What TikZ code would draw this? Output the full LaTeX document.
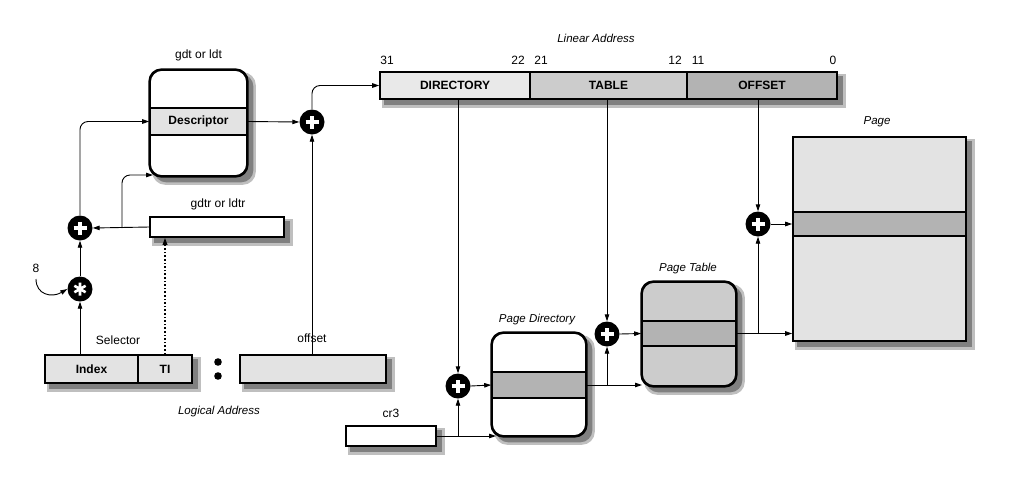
\documentclass[tikz,border=0pt]{standalone}
\usepackage{fontspec}
\setmainfont{Liberation Sans}
\usetikzlibrary{arrows.meta,calc,backgrounds}
\definecolor{lg}{HTML}{E3E3E3}
\definecolor{mg}{HTML}{CCCCCC}
\definecolor{dg}{HTML}{B3B3B3}
\begin{document}
\begin{tikzpicture}[x=1pt,y=-1pt,
  font=\fontsize{12}{14}\selectfont,
  arr/.style={-{Triangle[length=7pt,width=4.5pt]}, line width=0.9pt},
  box/.style={draw, line width=1.6pt, inner sep=0pt},
  rbox/.style={box, rounded corners=12pt},
  shA/.style={fill=black!25},
  shB/.style={fill=black!50},
  lbl/.style={inner sep=0pt},
  ilbl/.style={inner sep=0pt, font=\fontsize{11.5}{14}\selectfont\itshape},
  blbl/.style={font=\fontsize{12}{14}\selectfont\bfseries},
  op/.style={circle, fill=black, minimum size=25pt, inner sep=0pt},
  plus/.style={op, path picture={\draw[white,line width=3.4pt]
     ([xshift=-6.5pt]path picture bounding box.center) -- ([xshift=6.5pt]path picture bounding box.center)
     ([yshift=-6.5pt]path picture bounding box.center) -- ([yshift=6.5pt]path picture bounding box.center);}},
  star/.style={op, path picture={\draw[white,line width=2.6pt]
     ($(path picture bounding box.center)+(90:6.5pt)$) -- ($(path picture bounding box.center)+(270:6.5pt)$)
     ($(path picture bounding box.center)+(30:6.5pt)$) -- ($(path picture bounding box.center)+(210:6.5pt)$)
     ($(path picture bounding box.center)+(150:6.5pt)$) -- ($(path picture bounding box.center)+(330:6.5pt)$);}}
]
\useasboundingbox (0,0) rectangle (1011,488);

% ---- segment table
\node[rbox, fill=white, minimum width=97pt, minimum height=106pt] (gdt) at (198.5,123) {};
\node[box, fill=lg, minimum width=97pt, minimum height=27pt, blbl] (desc) at (198.5,121.5) {Descriptor};
\draw[line width=1.6pt, rounded corners=12pt] (gdt.north west) rectangle (gdt.south east);
\node[lbl] (gdtl) at (198.5,55) {gdt or ldt};

% ---- gdtr
\node[box, fill=white, minimum width=134pt, minimum height=20pt] (gdtr) at (217,227) {};
\node[lbl] (gdtrl) at (218,204) {gdtr or ldtr};

% ---- operators
\node[plus] (plusD) at (312,122) {};
\node[plus] (plusG) at (80,228) {};
\node[star] (star) at (80,289) {};
\node[lbl] (eight) at (36,268) {8};

% ---- logical address
\node[box, fill=lg, minimum width=93pt, minimum height=28pt, blbl] (index) at (91.5,369) {Index};
\node[box, fill=lg, minimum width=54pt, minimum height=28pt, blbl] (ti) at (165,369) {TI};
\node[box, fill=lg, minimum width=146pt, minimum height=28pt] (off) at (313,369) {};
\node[lbl] (sell) at (118,340) {Selector};
\node[lbl] (offl) at (312,338) {offset};
\fill (218,362) circle (3.8pt) (218,376) circle (3.8pt);
\node[ilbl] (logl) at (219,412) {Logical Address};

% ---- linear address
\node[box, fill=lg!80!white, minimum width=150pt, minimum height=27pt, blbl] (dir) at (455,85.5) {DIRECTORY};
\node[box, fill=mg, minimum width=157pt, minimum height=27pt, blbl] (tab) at (608.5,85.5) {TABLE};
\node[box, fill=dg, minimum width=150pt, minimum height=27pt, blbl] (loff) at (762,85.5) {OFFSET};
\node[ilbl] (linl) at (596,38) {Linear Address};
\node[lbl] (b31) at (387,60) {31};
\node[lbl] (b22) at (518,60) {22};
\node[lbl] (b21) at (541,60) {21};
\node[lbl] (b12) at (675,60) {12};
\node[lbl] (b11) at (698,60) {11};
\node[lbl] (b0) at (833,60) {0};

% ---- cr3
\node[box, fill=white, minimum width=90pt, minimum height=20pt] (cr3) at (391,436) {};
\node[lbl] (cr3l) at (391,413) {cr3};

% ---- page directory
\node[plus] (plusPD) at (458,386) {};
\node[rbox, fill=white, minimum width=94pt, minimum height=103pt] (pd) at (539,384.5) {};
\node[box, fill=dg, minimum width=94pt, minimum height=26pt] (pdb) at (539,385) {};
\draw[line width=1.6pt, rounded corners=12pt] (pd.north west) rectangle (pd.south east);
\node[ilbl] (pdl) at (537,320) {Page Directory};

% ---- page table
\node[plus] (plusPT) at (607,334) {};
\node[rbox, fill=mg, minimum width=94pt, minimum height=104pt] (pt) at (689,334) {};
\node[box, fill=dg, minimum width=94pt, minimum height=25pt] (ptb) at (689,333.5) {};
\draw[line width=1.6pt, rounded corners=12pt] (pt.north west) rectangle (pt.south east);
\node[ilbl] (ptl) at (688,269) {Page Table};

% ---- page
\node[plus] (plusP) at (758,224) {};
\node[box, fill=lg, minimum width=173pt, minimum height=204pt] (page) at (879.5,239) {};
\node[box, fill=dg, minimum width=173pt, minimum height=24pt] (pgb) at (879.5,224) {};
\node[ilbl] (pgl) at (877,122) {Page};

% ---- drop shadows
\begin{pgfonlayer}{background}
\fill[shA] ($(gdtr.north west)+(3,3)$) rectangle ($(gdtr.south east)+(8,8)$);
\fill[shB] ($(gdtr.north west)+(5,5)$) rectangle ($(gdtr.south east)+(5.5,5.5)$);
\fill[shA] ($(index.north west)+(3,3)$) rectangle ($(ti.south east)+(8,8)$);
\fill[shB] ($(index.north west)+(5,5)$) rectangle ($(ti.south east)+(5.5,5.5)$);
\fill[shA] ($(off.north west)+(3,3)$) rectangle ($(off.south east)+(8,8)$);
\fill[shB] ($(off.north west)+(5,5)$) rectangle ($(off.south east)+(5.5,5.5)$);
\fill[shA] ($(dir.north west)+(3,3)$) rectangle ($(loff.south east)+(8,8)$);
\fill[shB] ($(dir.north west)+(5,5)$) rectangle ($(loff.south east)+(5.5,5.5)$);
\fill[shA] ($(cr3.north west)+(3,3)$) rectangle ($(cr3.south east)+(8,8)$);
\fill[shB] ($(cr3.north west)+(5,5)$) rectangle ($(cr3.south east)+(5.5,5.5)$);
\fill[shA] ($(page.north west)+(3,3)$) rectangle ($(page.south east)+(8,8)$);
\fill[shB] ($(page.north west)+(5,5)$) rectangle ($(page.south east)+(5.5,5.5)$);
\fill[shA, rounded corners=13pt] ($(gdt.north west)+(3,3)$) rectangle ($(gdt.south east)+(8,8)$);
\fill[shB, rounded corners=12pt] ($(gdt.north west)+(5,5)$) rectangle ($(gdt.south east)+(5.5,5.5)$);
\fill[shA, rounded corners=13pt] ($(pd.north west)+(3,3)$) rectangle ($(pd.south east)+(8,8)$);
\fill[shB, rounded corners=12pt] ($(pd.north west)+(5,5)$) rectangle ($(pd.south east)+(5.5,5.5)$);
\fill[shA, rounded corners=13pt] ($(pt.north west)+(3,3)$) rectangle ($(pt.south east)+(8,8)$);
\fill[shB, rounded corners=12pt] ($(pt.north west)+(5,5)$) rectangle ($(pt.south east)+(5.5,5.5)$);
\end{pgfonlayer}

% ---- connectors: segmentation
\coordinate (gdtIn) at (153,175);
\coordinate (jG) at (122,228);
\coordinate (eightEnd) at (36,279);
\draw[arr] (desc.east) -- (plusD.west);
\draw[arr, rounded corners=8pt] (plusD.north) |- (dir.west);
\draw[arr] (off.north -| plusD) -- (plusD.south);
\draw[arr] (gdtr.west) -- (plusG.east);
\draw[arr, rounded corners=8pt] (jG) |- (gdtIn);
\draw[arr, rounded corners=8pt] (plusG.north) |- (desc.west);
\draw[arr] (star.north) -- (plusG.south);
\draw[arr] (star |- index.north) -- (star.south);
\draw[arr] (eightEnd) .. controls (36,295) and (52,298) .. (star.west);
\draw[-{Triangle[length=7pt,width=4.5pt]}, line width=1.6pt, dotted] (ti.north) -- (ti |- gdtr.south);

% ---- connectors: paging
\coordinate (pdIn) at (496,436);
\coordinate (ptIn) at (642,385);
\coordinate (jPD) at (458,436);
\coordinate (jPT) at (607,385);
\coordinate (jP) at (758,334);
\draw[arr] (plusPD |- dir.south) -- (plusPD.north);
\draw[arr] (cr3.east) -- (pdIn);
\draw[arr] (jPD) -- (plusPD.south);
\draw[arr] (plusPD.east) -- (pdb.west);
\draw[arr] (plusPT |- tab.south) -- (plusPT.north);
\draw[arr] (pdb.east) -- (ptIn);
\draw[arr] (jPT) -- (plusPT.south);
\draw[arr] (plusPT.east) -- (ptb.west);
\draw[arr] (plusP |- loff.south) -- (plusP.north);
\draw[arr] (ptb.east) -- (ptb.east -| page.west);
\draw[arr] (jP) -- (plusP.south);
\draw[arr] (plusP.east) -- (pgb.west);
\end{tikzpicture}
\end{document}
